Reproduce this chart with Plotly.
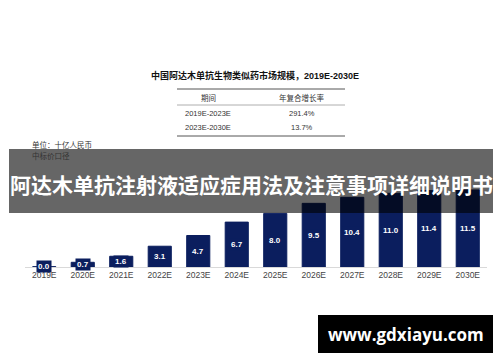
import plotly.graph_objects as go

# ---- data ----
categories = ["2019E", "2020E", "2021E", "2022E", "2023E", "2024E",
              "2025E", "2026E", "2027E", "2028E", "2029E", "2030E"]
market_size = [0.04, 0.7, 1.6, 3.1, 4.7, 6.7, 8.0, 9.5, 10.4, 11.0, 11.4, 11.5]
title_text = "中国阿达木单抗生物类似药市场规模，2019E-2030E"
table_header = ["期间", "年复合增长率"]
table_periods = ["2019E-2023E", "2023E-2030E"]
table_cagr = ["291.4%", "13.7%"]
unit_lines = ["单位：十亿人民币", "中标价口径"]
banner_text = "阿达木单抗注射液适应症用法及注意事项详细说明书"
watermark_text = "www.gdxiayu.com"

NAVY = "#0b1e5e"
W, H = 500, 362
L, R, T, B = 25, 13, 184, 95
PW, PH = W - L - R, H - T - B
YMAX = PH / 6.7

def px(x):
    return (x - L) / PW

def py(y):
    return (H - B - y) / PH

FONT = "Liberation Sans, Arial, Noto Sans CJK SC, sans-serif"
CJK = "Noto Sans CJK SC, sans-serif"

fig = go.Figure()
fig.add_trace(go.Bar(
    x=categories, y=market_size,
    marker=dict(color=NAVY, line=dict(color=NAVY, width=1)),
    hoverinfo="skip",
))

annotations = []
for c, v in zip(categories, market_size):
    annotations.append(dict(
        x=c, y=v / 2, xref="x", yref="y", text=f"<b>{v:.1f}</b>",
        showarrow=False, font=dict(family=FONT, size=8, color="white"),
        bgcolor=NAVY, borderpad=1, xanchor="center", yanchor="middle",
    ))

def note(x, y, text, size, color="#333", family=FONT, xanchor="center"):
    annotations.append(dict(x=px(x), y=py(y), xref="paper", yref="paper", text=text,
                            showarrow=False, xanchor=xanchor, yanchor="middle",
                            font=dict(family=family, size=size, color=color)))

# title
note(255, 76, f"<b>{title_text}</b>", 9, "#111")
# table
col_x = [208, 302]
for cx, t in zip(col_x, table_header):
    note(cx, 98, t, 7.5)
for row_y, a, b in zip([113, 127], table_periods, table_cagr):
    for cx, t in zip(col_x, [a, b]):
        note(cx, row_y, t, 7.5)
# unit text
for yy, t in zip([145, 156], unit_lines):
    note(30, yy, t, 7.5, xanchor="left")
# banner
note(251, 184, f"<b>{banner_text}</b>", 21, "white", CJK)
# watermark
note(406, 334, f"<b>{watermark_text}</b>", 17, "white", "Open Sans, sans-serif")

shapes = [
    dict(type="line", xref="paper", yref="paper", x0=px(177), x1=px(345), y0=py(89), y1=py(89),
         line=dict(color="#555", width=1)),
    dict(type="line", xref="paper", yref="paper", x0=px(177), x1=px(345), y0=py(105), y1=py(105),
         line=dict(color="#999", width=0.8)),
    dict(type="line", xref="paper", yref="paper", x0=px(177), x1=px(345), y0=py(136), y1=py(136),
         line=dict(color="#555", width=1)),
    dict(type="rect", xref="paper", yref="paper", x0=px(9), x1=px(493), y0=py(213), y1=py(149),
         fillcolor="rgba(0,0,0,0.6)", line=dict(width=0), layer="above"),
    dict(type="rect", xref="paper", yref="paper", x0=px(318), x1=px(493), y0=py(353), y1=py(315),
         fillcolor="black", line=dict(width=0), layer="above"),
]

fig.update_layout(
    width=W, height=H, autosize=False,
    margin=dict(l=L, r=R, t=T, b=B, pad=0),
    paper_bgcolor="white", plot_bgcolor="white",
    bargap=0.4, showlegend=False,
    annotations=annotations, shapes=shapes,
    xaxis=dict(showline=True, linecolor="#d9d9d9", linewidth=1, showgrid=False,
               ticks="", tickfont=dict(family=FONT, size=8.5, color="#444"), fixedrange=True),
    yaxis=dict(range=[0, YMAX], visible=False, showgrid=False, zeroline=False, fixedrange=True),
)

fig.write_html("out.html", config={"displayModeBar": False},
               post_script="document.body.style.margin='0';document.body.style.padding='0';")
